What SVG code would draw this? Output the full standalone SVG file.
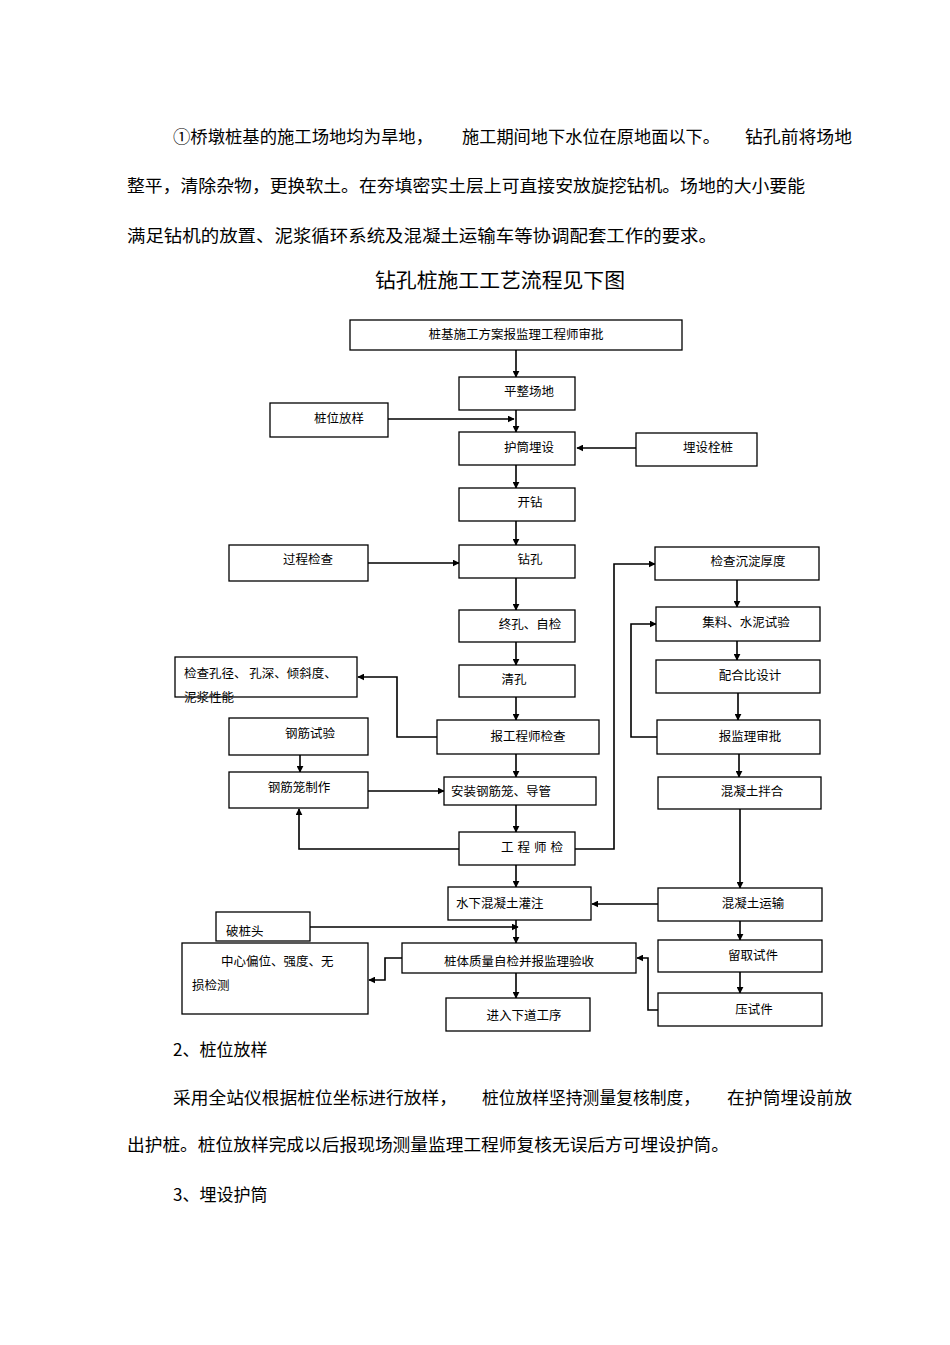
<svg xmlns="http://www.w3.org/2000/svg" width="950" height="1345" viewBox="0 0 950 1345">
<style>
.b{fill:#fff;stroke:#000;stroke-width:1.3}
.t{font-family:"Noto Sans CJK SC","Noto Sans CJK JP",sans-serif;font-size:12.5px;fill:#000}
.p{font-family:"Noto Sans CJK SC","Noto Sans CJK JP",sans-serif;font-size:17px;fill:#000}
.c{fill:none;stroke:#000;stroke-width:1.6;marker-end:url(#a)}
.n{fill:none;stroke:#000;stroke-width:1.6}
</style>
<defs><marker id="a" viewBox="0 0 10 10" refX="9" refY="5" markerWidth="7" markerHeight="7" markerUnits="userSpaceOnUse" orient="auto"><path d="M0,0L10,5L0,10z" fill="#000"/></marker></defs>
<rect width="950" height="1345" fill="#fff"/>
<text class="p" x="173" y="143" textLength="260" lengthAdjust="spacingAndGlyphs">①桥墩桩基的施工场地均为旱地，</text>
<text class="p" x="462" y="143" textLength="258" lengthAdjust="spacingAndGlyphs">施工期间地下水位在原地面以下。</text>
<text class="p" x="745" y="143" textLength="107" lengthAdjust="spacingAndGlyphs">钻孔前将场地</text>
<text class="p" x="127" y="192" textLength="678" lengthAdjust="spacingAndGlyphs">整平，清除杂物，更换软土。在夯填密实土层上可直接安放旋挖钻机。场地的大小要能</text>
<text class="p" x="127" y="242" textLength="590" lengthAdjust="spacingAndGlyphs">满足钻机的放置、泥浆循环系统及混凝土运输车等协调配套工作的要求。</text>
<text class="p" x="375" y="288" style="font-size:20px" textLength="250" lengthAdjust="spacingAndGlyphs">钻孔桩施工工艺流程见下图</text>
<g id="connectors">
<path class="c" d="M516,350V377"/>
<path class="c" d="M516,410V432"/>
<path class="c" d="M388,419H514"/>
<path class="c" d="M636,448H577"/>
<path class="c" d="M516,465V488"/>
<path class="c" d="M516,521V545"/>
<path class="c" d="M368,563H459"/>
<path class="c" d="M516,578V610"/>
<path class="c" d="M516,642V665"/>
<path class="c" d="M516,697V720"/>
<path class="c" d="M516,754V777"/>
<path class="c" d="M516,805V832"/>
<path class="c" d="M516,865V887"/>
<path class="c" d="M516,920V943"/>
<path class="c" d="M516,973V998"/>
<path class="c" d="M437,737H397V677H358"/>
<path class="c" d="M300,755V772"/>
<path class="c" d="M368,791H444"/>
<path class="c" d="M459,849H299V809"/>
<path class="c" d="M575,849H614V564H655"/>
<path class="c" d="M657,737H631V624H656"/>
<path class="c" d="M737,580V607"/>
<path class="c" d="M737,641V660"/>
<path class="c" d="M738,693V720"/>
<path class="c" d="M739,754V777"/>
<path class="c" d="M740,809V888"/>
<path class="c" d="M658,904H592"/>
<path class="c" d="M740,921V940"/>
<path class="c" d="M740,972V993"/>
<path class="c" d="M658,1010H648V958H637"/>
<path class="c" d="M310,927H518"/>
<path class="c" d="M402,958H385V980H369"/>
</g>
<g id="n1"><rect class="b" x="350" y="320" width="332" height="30"/><text class="t" x="516" y="339" text-anchor="middle">桩基施工方案报监理工程师审批</text></g>
<g id="n2"><rect class="b" x="459" y="377" width="116" height="33"/><text class="t" x="529" y="396" text-anchor="middle">平整场地</text></g>
<g id="n3"><rect class="b" x="270" y="403" width="118" height="34"/><text class="t" x="339" y="423" text-anchor="middle">桩位放样</text></g>
<g id="n4"><rect class="b" x="459" y="432" width="116" height="33"/><text class="t" x="529" y="452" text-anchor="middle">护筒埋设</text></g>
<g id="n5"><rect class="b" x="636" y="433" width="121" height="33"/><text class="t" x="708" y="452" text-anchor="middle">埋设栓桩</text></g>
<g id="n6"><rect class="b" x="459" y="488" width="116" height="33"/><text class="t" x="530" y="507" text-anchor="middle">开钻</text></g>
<g id="n7"><rect class="b" x="229" y="545" width="139" height="36"/><text class="t" x="308" y="564" text-anchor="middle">过程检查</text></g>
<g id="n8"><rect class="b" x="459" y="545" width="116" height="33"/><text class="t" x="530" y="564" text-anchor="middle">钻孔</text></g>
<g id="n9"><rect class="b" x="655" y="547" width="164" height="33"/><text class="t" x="748" y="566" text-anchor="middle">检查沉淀厚度</text></g>
<g id="n10"><rect class="b" x="459" y="610" width="116" height="32"/><text class="t" x="530" y="629" text-anchor="middle">终孔、自检</text></g>
<g id="n11"><rect class="b" x="656" y="607" width="164" height="34"/><text class="t" x="746" y="627" text-anchor="middle">集料、水泥试验</text></g>
<g id="n12"><rect class="b" x="175" y="657" width="182" height="40"/><text class="t" x="184" y="678">检查孔径、 孔深、倾斜度、</text><text class="t" x="184" y="702">泥浆性能</text></g>
<g id="n13"><rect class="b" x="459" y="665" width="116" height="32"/><text class="t" x="514" y="684" text-anchor="middle">清孔</text></g>
<g id="n14"><rect class="b" x="656" y="660" width="164" height="33"/><text class="t" x="750" y="680" text-anchor="middle">配合比设计</text></g>
<g id="n15"><rect class="b" x="229" y="718" width="139" height="37"/><text class="t" x="310" y="738" text-anchor="middle">钢筋试验</text></g>
<g id="n16"><rect class="b" x="437" y="720" width="162" height="34"/><text class="t" x="528" y="741" text-anchor="middle">报工程师检查</text></g>
<g id="n17"><rect class="b" x="657" y="720" width="163" height="34"/><text class="t" x="750" y="741" text-anchor="middle">报监理审批</text></g>
<g id="n18"><rect class="b" x="229" y="772" width="139" height="36"/><text class="t" x="299" y="792" text-anchor="middle">钢筋笼制作</text></g>
<g id="n19"><rect class="b" x="444" y="777" width="152" height="28"/><text class="t" x="451" y="796">安装钢筋笼、导管</text></g>
<g id="n20"><rect class="b" x="658" y="777" width="163" height="32"/><text class="t" x="752" y="796" text-anchor="middle">混凝土拌合</text></g>
<g id="n21"><rect class="b" x="459" y="832" width="116" height="33"/><text class="t" x="534" y="852" text-anchor="middle" letter-spacing="4">工程师检</text></g>
<g id="n22"><rect class="b" x="448" y="887" width="143" height="33"/><text class="t" x="456" y="908">水下混凝土灌注</text></g>
<g id="n23"><rect class="b" x="658" y="888" width="164" height="33"/><text class="t" x="753" y="908" text-anchor="middle">混凝土运输</text></g>
<g id="n24"><rect class="b" x="216" y="912" width="94" height="29"/><text class="t" x="226" y="936">破桩头</text></g>
<g id="n25"><rect class="b" x="182" y="943" width="186" height="71"/><text class="t" x="221" y="966">中心偏位、强度、无</text><text class="t" x="192" y="990">损检测</text></g>
<g id="n26"><rect class="b" x="402" y="943" width="234" height="30"/><text class="t" x="519" y="966" text-anchor="middle">桩体质量自检并报监理验收</text></g>
<g id="n27"><rect class="b" x="658" y="940" width="164" height="32"/><text class="t" x="753" y="960" text-anchor="middle">留取试件</text></g>
<g id="n28"><rect class="b" x="658" y="993" width="164" height="33"/><text class="t" x="754" y="1014" text-anchor="middle">压试件</text></g>
<g id="n29"><rect class="b" x="446" y="998" width="144" height="33"/><text class="t" x="524" y="1020" text-anchor="middle">进入下道工序</text></g>
<text class="p" x="173" y="1056">2、桩位放样</text>
<text class="p" x="173" y="1104" textLength="284" lengthAdjust="spacingAndGlyphs">采用全站仪根据桩位坐标进行放样，</text>
<text class="p" x="482" y="1104" textLength="218" lengthAdjust="spacingAndGlyphs">桩位放样坚持测量复核制度，</text>
<text class="p" x="727" y="1104" textLength="125" lengthAdjust="spacingAndGlyphs">在护筒埋设前放</text>
<text class="p" x="127" y="1151" textLength="602" lengthAdjust="spacingAndGlyphs">出护桩。桩位放样完成以后报现场测量监理工程师复核无误后方可埋设护筒。</text>
<text class="p" x="173" y="1201">3、埋设护筒</text>
</svg>
